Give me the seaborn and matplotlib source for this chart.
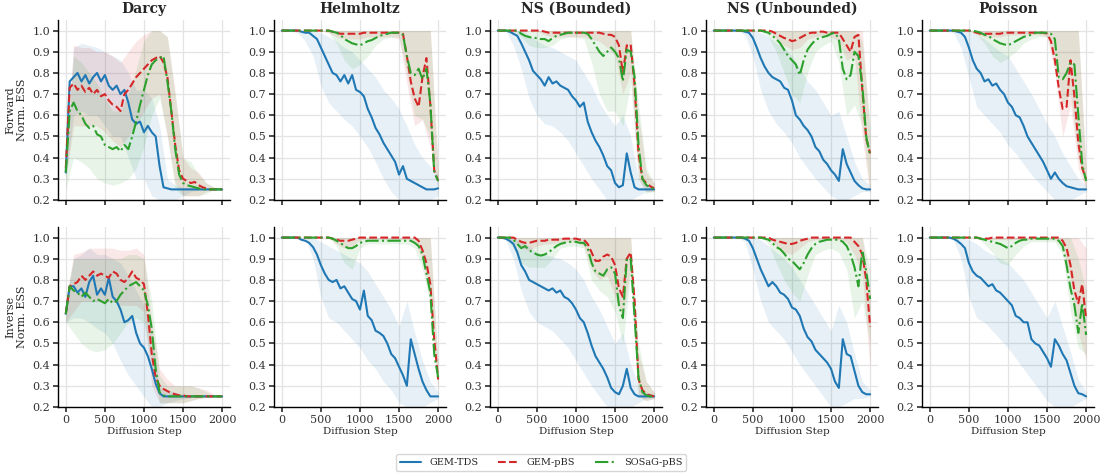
import matplotlib
matplotlib.use("Agg")
import matplotlib.pyplot as plt
import seaborn as sns

STEPS = list(range(0, 2001, 50))
BAND_STEPS = list(range(0, 2001, 100))

TASKS = ["Darcy", "Helmholtz", "NS (Bounded)", "NS (Unbounded)", "Poisson"]
ROW_LABELS = ["Forward\nNorm. ESS", "Inverse\nNorm. ESS"]
METHODS = ["GEM-TDS", "GEM-pBS", "SOSaG-pBS"]
COLORS = ["#1f77b4", "#d62728", "#2ca02c"]
STYLES = ["-", "--", "-."]

# ---------------- forward: Darcy ----------------
darcy_f_tds = [0.33, 0.76, 0.78, 0.80, 0.76, 0.79, 0.75, 0.78, 0.80, 0.76,
               0.79, 0.74, 0.72, 0.74, 0.70, 0.72, 0.66, 0.58, 0.56, 0.57,
               0.52, 0.55, 0.52, 0.50, 0.36, 0.26, 0.255, 0.25, 0.25, 0.25,
               0.25, 0.25, 0.25, 0.25, 0.25, 0.25, 0.25, 0.25, 0.25, 0.25,
               0.25]
darcy_f_pbs = [0.35, 0.73, 0.75, 0.72, 0.74, 0.71, 0.73, 0.70, 0.72, 0.69,
               0.70, 0.67, 0.65, 0.64, 0.62, 0.70, 0.72, 0.75, 0.78, 0.80,
               0.82, 0.84, 0.86, 0.87, 0.88, 0.85, 0.78, 0.62, 0.46, 0.34,
               0.30, 0.29, 0.28, 0.285, 0.27, 0.26, 0.255, 0.25, 0.25, 0.25,
               0.25]
darcy_f_sos = [0.33, 0.62, 0.66, 0.62, 0.60, 0.56, 0.54, 0.55, 0.51, 0.50,
               0.46, 0.45, 0.44, 0.45, 0.43, 0.46, 0.44, 0.50, 0.57, 0.65,
               0.72, 0.79, 0.84, 0.86, 0.87, 0.88, 0.76, 0.62, 0.44, 0.32,
               0.28, 0.27, 0.265, 0.26, 0.255, 0.25, 0.25, 0.25, 0.25, 0.25,
               0.25]
darcy_f_tds_lo = [0.3, 0.6, 0.62, 0.6, 0.6, 0.55, 0.5, 0.5, 0.4, 0.3,
                  0.3, 0.22, 0.2, 0.2, 0.2, 0.22, 0.24, 0.245, 0.25, 0.25, 0.25]
darcy_f_tds_hi = [0.4, 0.92, 0.94, 0.93, 0.92, 0.9, 0.88, 0.86, 0.8, 0.72,
                  0.72, 0.68, 0.55, 0.3, 0.27, 0.26, 0.26, 0.255, 0.25, 0.25, 0.25]
darcy_f_pbs_lo = [0.3, 0.55, 0.55, 0.55, 0.55, 0.52, 0.48, 0.45, 0.5, 0.55,
                  0.62, 0.68, 0.7, 0.5, 0.28, 0.22, 0.22, 0.22, 0.24, 0.25, 0.25]
darcy_f_pbs_hi = [0.4, 0.93, 0.92, 0.92, 0.9, 0.9, 0.88, 0.85, 0.9, 0.95,
                  0.98, 1.0, 1.0, 0.97, 0.7, 0.4, 0.35, 0.33, 0.28, 0.26, 0.25]
darcy_f_sos_lo = [0.25, 0.4, 0.38, 0.35, 0.3, 0.28, 0.27, 0.28, 0.3, 0.35,
                  0.45, 0.6, 0.68, 0.5, 0.25, 0.22, 0.22, 0.22, 0.23, 0.25, 0.25]
darcy_f_sos_hi = [0.4, 0.88, 0.85, 0.8, 0.75, 0.68, 0.62, 0.62, 0.7, 0.82,
                  0.95, 1.0, 1.0, 0.97, 0.7, 0.4, 0.38, 0.32, 0.28, 0.26, 0.25]

# ---------------- forward: Helmholtz ----------------
helm_f_tds = [1.0, 1.0, 1.0, 1.0, 1.0, 0.995, 0.99, 0.99, 0.975, 0.96,
              0.92, 0.88, 0.84, 0.80, 0.79, 0.76, 0.79, 0.75, 0.79, 0.72,
              0.71, 0.69, 0.63, 0.59, 0.54, 0.51, 0.47, 0.44, 0.41, 0.38,
              0.32, 0.36, 0.30, 0.29, 0.28, 0.27, 0.26, 0.25, 0.25, 0.25,
              0.255]
helm_f_pbs = [1.0] * 10 + \
             [1.0, 1.0, 1.0, 0.995, 0.99, 0.985, 0.985, 0.985, 0.985, 0.985,
              0.985, 0.99, 0.99, 0.99, 0.99, 0.99, 0.99, 0.99, 0.99, 0.99,
              0.99, 0.985, 0.88, 0.76, 0.68, 0.64, 0.78, 0.87, 0.65, 0.34,
              0.29]
helm_f_sos = [1.0] * 10 + \
             [1.0, 1.0, 1.0, 0.995, 0.99, 0.98, 0.96, 0.95, 0.94, 0.935,
              0.93, 0.94, 0.95, 0.955, 0.965, 0.975, 0.98, 0.985, 0.99, 0.99,
              0.99, 0.98, 0.88, 0.80, 0.79, 0.82, 0.77, 0.82, 0.66, 0.33,
              0.29]
helm_f_tds_lo = [1.0, 1.0, 0.99, 0.95, 0.88, 0.74, 0.66, 0.62, 0.58, 0.55,
                 0.5, 0.45, 0.38, 0.3, 0.24, 0.2, 0.2, 0.2, 0.2, 0.2, 0.22]
helm_f_tds_hi = [1.0, 1.0, 1.0, 1.0, 1.0, 0.99, 0.97, 0.95, 0.92, 0.9,
                 0.86, 0.82, 0.78, 0.72, 0.68, 0.63, 0.55, 0.46, 0.4, 0.36, 0.32]
helm_f_pbs_lo = [1.0, 1.0, 1.0, 1.0, 1.0, 1.0, 0.99, 0.97, 0.96, 0.96,
                 0.96, 0.97, 0.97, 0.97, 0.97, 0.96, 0.75, 0.55, 0.58, 0.45, 0.25]
helm_f_pbs_hi = [1.0] * 20 + [0.35]
helm_f_sos_lo = [1.0, 1.0, 1.0, 1.0, 1.0, 1.0, 0.99, 0.94, 0.86, 0.82,
                 0.84, 0.88, 0.93, 0.96, 0.97, 0.97, 0.8, 0.6, 0.58, 0.5, 0.25]
helm_f_sos_hi = [1.0] * 20 + [0.35]

# ---------------- forward: NS (Bounded) ----------------
nsb_f_tds = [1.0, 1.0, 1.0, 0.995, 0.985, 0.975, 0.94, 0.9, 0.86, 0.81,
             0.79, 0.77, 0.74, 0.78, 0.75, 0.76, 0.74, 0.73, 0.72, 0.69,
             0.67, 0.64, 0.66, 0.57, 0.52, 0.48, 0.45, 0.41, 0.36, 0.34,
             0.28, 0.26, 0.27, 0.42, 0.33, 0.26, 0.25, 0.25, 0.25, 0.25,
             0.25]
nsb_f_pbs = [1.0] * 10 + \
            [1.0, 1.0, 0.995, 0.99, 0.99, 0.99, 0.99, 0.99, 0.99, 0.99,
             0.99, 0.99, 0.99, 0.99, 0.99, 0.99, 0.99, 0.985, 0.98, 0.98,
             0.97, 0.93, 0.80, 0.93, 0.935, 0.74, 0.42, 0.30, 0.28, 0.265,
             0.255]
nsb_f_sos = [1.0, 1.0, 1.0, 1.0, 1.0, 1.0, 0.985, 0.975, 0.97, 0.965,
             0.965, 0.96, 0.96, 0.95, 0.965, 0.975, 0.98, 0.985, 0.99, 0.99,
             0.99, 0.99, 0.99, 0.985, 0.96, 0.93, 0.9, 0.88, 0.9, 0.92,
             0.9, 0.87, 0.76, 0.91, 0.9, 0.78, 0.46, 0.3, 0.27, 0.26,
             0.25]
nsb_f_tds_lo = [1.0, 1.0, 0.93, 0.82, 0.68, 0.6, 0.56, 0.55, 0.52, 0.48,
                0.42, 0.36, 0.3, 0.25, 0.2, 0.2, 0.2, 0.2, 0.22, 0.24, 0.245]
nsb_f_tds_hi = [1.0, 1.0, 1.0, 1.0, 0.98, 0.95, 0.93, 0.92, 0.9, 0.88,
                0.86, 0.8, 0.74, 0.66, 0.6, 0.55, 0.6, 0.5, 0.3, 0.27, 0.26]
nsb_f_pbs_lo = [1.0, 1.0, 1.0, 1.0, 1.0, 1.0, 0.98, 0.97, 0.97, 0.97,
                0.97, 0.97, 0.96, 0.95, 0.92, 0.88, 0.7, 0.8, 0.3, 0.24, 0.24]
nsb_f_pbs_hi = [1.0] * 18 + [0.6, 0.33, 0.28]
nsb_f_sos_lo = [1.0, 1.0, 1.0, 0.97, 0.93, 0.92, 0.92, 0.93, 0.96, 0.97,
                0.97, 0.96, 0.85, 0.7, 0.62, 0.62, 0.55, 0.75, 0.3, 0.23, 0.24]
nsb_f_sos_hi = [1.0] * 18 + [0.65, 0.35, 0.28]

# ---------------- forward: NS (Unbounded) ----------------
nsu_f_tds = [1.0, 1.0, 1.0, 1.0, 1.0, 1.0, 1.0, 1.0, 0.995, 0.99,
             0.965, 0.92, 0.87, 0.83, 0.8, 0.78, 0.77, 0.76, 0.73, 0.72,
             0.67, 0.6, 0.58, 0.55, 0.53, 0.5, 0.45, 0.43, 0.39, 0.37,
             0.34, 0.32, 0.29, 0.44, 0.37, 0.33, 0.29, 0.27, 0.255, 0.25,
             0.25]
nsu_f_pbs = [1.0] * 10 + \
            [1.0, 1.0, 1.0, 1.0, 1.0, 0.995, 0.985, 0.975, 0.965, 0.96,
             0.95, 0.955, 0.965, 0.975, 0.985, 0.99, 0.99, 0.995, 0.995, 0.99,
             0.99, 0.99, 0.99, 0.96, 0.93, 0.9, 0.97, 0.98, 0.72, 0.49,
             0.42]
nsu_f_sos = [1.0] * 10 + \
            [1.0, 1.0, 1.0, 0.995, 0.99, 0.975, 0.96, 0.94, 0.91, 0.88,
             0.86, 0.84, 0.79, 0.86, 0.91, 0.935, 0.955, 0.965, 0.97, 0.975,
             0.985, 0.99, 0.96, 0.82, 0.77, 0.79, 0.9, 0.88, 0.74, 0.5,
             0.41]
nsu_f_tds_lo = [1.0, 1.0, 1.0, 1.0, 0.98, 0.88, 0.72, 0.62, 0.56, 0.52,
                0.47, 0.4, 0.35, 0.3, 0.26, 0.22, 0.2, 0.2, 0.22, 0.24, 0.24]
nsu_f_tds_hi = [1.0, 1.0, 1.0, 1.0, 1.0, 1.0, 0.99, 0.97, 0.94, 0.92,
                0.88, 0.82, 0.76, 0.72, 0.66, 0.6, 0.62, 0.5, 0.38, 0.3, 0.27]
nsu_f_pbs_lo = [1.0] * 8 + [0.96, 0.93,
                0.91, 0.92, 0.96, 0.97, 0.98, 0.97, 0.95, 0.86, 0.88, 0.5, 0.22]
nsu_f_pbs_hi = [1.0] * 20 + [0.5]
nsu_f_sos_lo = [1.0] * 7 + [0.97, 0.9, 0.8,
                0.7, 0.66, 0.8, 0.9, 0.93, 0.95, 0.85, 0.6, 0.65, 0.55, 0.25]
nsu_f_sos_hi = [1.0] * 19 + [0.95, 0.55]

# ---------------- forward: Poisson ----------------
poi_f_tds = [1.0, 1.0, 1.0, 1.0, 1.0, 1.0, 1.0, 0.995, 0.99, 0.97,
             0.92, 0.86, 0.82, 0.8, 0.76, 0.77, 0.74, 0.75, 0.72, 0.7,
             0.66, 0.64, 0.6, 0.59, 0.55, 0.5, 0.47, 0.44, 0.41, 0.38,
             0.34, 0.3, 0.33, 0.3, 0.28, 0.265, 0.26, 0.255, 0.25, 0.25,
             0.25]
poi_f_pbs = [1.0] * 10 + \
            [1.0, 0.995, 0.99, 0.985, 0.985, 0.985, 0.985, 0.985, 0.985, 0.99,
             0.99, 0.99, 0.99, 0.99, 0.99, 0.99, 0.99, 0.99, 0.99, 0.99,
             0.985, 0.95, 0.86, 0.73, 0.63, 0.64, 0.86, 0.69, 0.47, 0.35,
             0.3]
poi_f_sos = [1.0] * 10 + \
            [1.0, 1.0, 0.995, 0.99, 0.98, 0.975, 0.96, 0.95, 0.94, 0.935,
             0.93, 0.94, 0.95, 0.96, 0.97, 0.975, 0.98, 0.99, 0.99, 0.99,
             0.99, 0.985, 0.96, 0.78, 0.77, 0.8, 0.85, 0.84, 0.6, 0.37,
             0.29]
poi_f_tds_lo = [1.0, 1.0, 1.0, 0.99, 0.92, 0.78, 0.64, 0.6, 0.56, 0.52,
                0.46, 0.42, 0.37, 0.32, 0.28, 0.24, 0.2, 0.2, 0.2, 0.22, 0.24]
poi_f_tds_hi = [1.0] * 6 + [0.98, 0.96, 0.93, 0.9,
                0.88, 0.82, 0.76, 0.7, 0.63, 0.56, 0.5, 0.42, 0.36, 0.3, 0.27]
poi_f_pbs_lo = [1.0] * 6 + [0.98, 0.97, 0.97, 0.97,
                0.98, 0.98, 0.98, 0.98, 0.98, 0.97, 0.8, 0.5, 0.65, 0.35, 0.25]
poi_f_pbs_hi = [1.0] * 20 + [0.35]
poi_f_sos_lo = [1.0] * 6 + [0.98, 0.94, 0.88, 0.85,
                0.87, 0.9, 0.94, 0.96, 0.97, 0.97, 0.88, 0.65, 0.7, 0.4, 0.25]
poi_f_sos_hi = [1.0] * 20 + [0.33]

# ---------------- inverse: Darcy ----------------
darcy_i_tds = [0.64, 0.77, 0.77, 0.74, 0.76, 0.72, 0.79, 0.82, 0.73, 0.76,
               0.73, 0.81, 0.72, 0.70, 0.66, 0.60, 0.61, 0.63, 0.55, 0.50,
               0.48, 0.44, 0.38, 0.31, 0.265, 0.25, 0.25, 0.25, 0.25, 0.25,
               0.25, 0.25, 0.25, 0.25, 0.25, 0.25, 0.25, 0.25, 0.25, 0.25,
               0.25]
darcy_i_pbs = [0.64, 0.77, 0.78, 0.79, 0.82, 0.80, 0.82, 0.84, 0.82, 0.83,
               0.82, 0.81, 0.84, 0.83, 0.80, 0.79, 0.81, 0.84, 0.81, 0.80,
               0.78, 0.64, 0.45, 0.34, 0.30, 0.285, 0.275, 0.265, 0.26, 0.255,
               0.255, 0.25, 0.25, 0.25, 0.25, 0.25, 0.25, 0.25, 0.25, 0.25,
               0.25]
darcy_i_sos = [0.64, 0.77, 0.75, 0.74, 0.72, 0.74, 0.72, 0.70, 0.71, 0.70,
               0.69, 0.71, 0.69, 0.70, 0.73, 0.75, 0.77, 0.78, 0.79, 0.77,
               0.75, 0.68, 0.57, 0.38, 0.27, 0.255, 0.25, 0.25, 0.25, 0.25,
               0.25, 0.25, 0.25, 0.25, 0.25, 0.25, 0.25, 0.25, 0.25, 0.25,
               0.25]
darcy_i_tds_lo = [0.6, 0.62, 0.62, 0.6, 0.57, 0.55, 0.5, 0.42, 0.35, 0.3,
                  0.25, 0.2, 0.2, 0.22, 0.23, 0.24, 0.245, 0.25, 0.25, 0.25, 0.25]
darcy_i_tds_hi = [0.7, 0.9, 0.92, 0.95, 0.92, 0.92, 0.9, 0.88, 0.82, 0.75,
                  0.68, 0.55, 0.3, 0.28, 0.27, 0.26, 0.255, 0.25, 0.25, 0.25, 0.25]
darcy_i_pbs_lo = [0.6, 0.65, 0.7, 0.7, 0.7, 0.7, 0.7, 0.68, 0.68, 0.68,
                  0.65, 0.3, 0.22, 0.22, 0.22, 0.22, 0.23, 0.24, 0.245, 0.245, 0.25]
darcy_i_pbs_hi = [0.7, 0.92, 0.93, 0.95, 0.95, 0.95, 0.95, 0.94, 0.94, 0.95,
                  0.92, 0.6, 0.38, 0.33, 0.3, 0.3, 0.3, 0.29, 0.28, 0.26, 0.25]
darcy_i_sos_lo = [0.6, 0.55, 0.5, 0.47, 0.46, 0.47, 0.5, 0.55, 0.6, 0.62,
                  0.6, 0.4, 0.22, 0.22, 0.22, 0.22, 0.23, 0.24, 0.245, 0.25, 0.25]
darcy_i_sos_hi = [0.7, 0.9, 0.9, 0.9, 0.9, 0.9, 0.9, 0.9, 0.92, 0.92,
                  0.9, 0.7, 0.35, 0.3, 0.3, 0.3, 0.3, 0.29, 0.27, 0.25, 0.25]

# ---------------- inverse: Helmholtz ----------------
helm_i_tds = [1.0, 1.0, 1.0, 1.0, 1.0, 0.99, 0.985, 0.975, 0.955, 0.92,
              0.87, 0.83, 0.80, 0.79, 0.80, 0.76, 0.77, 0.74, 0.71, 0.70,
              0.66, 0.75, 0.63, 0.61, 0.56, 0.55, 0.535, 0.5, 0.45, 0.43,
              0.39, 0.35, 0.3, 0.52, 0.45, 0.38, 0.32, 0.28, 0.25, 0.25,
              0.25]
helm_i_pbs = [1.0] * 10 + \
             [1.0, 1.0, 1.0, 0.995, 0.99, 0.985, 0.985, 0.985, 0.99, 0.995] + \
             [1.0] * 10 + \
             [1.0, 1.0, 1.0, 1.0, 1.0, 0.985, 0.94, 0.88, 0.78, 0.52,
              0.33]
helm_i_sos = [1.0] * 10 + \
             [1.0, 1.0, 1.0, 0.995, 0.985, 0.975, 0.96, 0.95, 0.95, 0.96,
              0.975, 0.98, 0.985, 0.985, 0.985, 0.985, 0.985, 0.985, 0.985, 0.985,
              0.985, 0.985, 0.985, 0.985, 0.975, 0.96, 0.92, 0.83, 0.74, 0.45,
              0.34]
helm_i_tds_lo = [1.0, 1.0, 1.0, 1.0, 0.9, 0.72, 0.62, 0.6, 0.56, 0.52,
                 0.48, 0.42, 0.38, 0.32, 0.28, 0.22, 0.2, 0.2, 0.2, 0.22, 0.24]
helm_i_tds_hi = [1.0] * 5 + [0.98, 0.96, 0.94, 0.92, 0.9,
                 0.88, 0.84, 0.78, 0.72, 0.66, 0.58, 0.7, 0.55, 0.42, 0.32, 0.27]
helm_i_pbs_lo = [1.0] * 7 + [0.97, 0.95, 0.96,
                 0.99, 0.99, 0.99, 0.99, 0.99, 0.99, 0.99, 0.98, 0.9, 0.72, 0.28]
helm_i_pbs_hi = [1.0] * 20 + [0.4]
helm_i_sos_lo = [1.0] * 7 + [0.96, 0.88, 0.85,
                 0.95, 0.97, 0.97, 0.97, 0.97, 0.97, 0.97, 0.95, 0.85, 0.68, 0.28]
helm_i_sos_hi = [1.0] * 20 + [0.4]

# ---------------- inverse: NS (Bounded) ----------------
nsb_i_tds = [1.0, 1.0, 0.995, 0.985, 0.97, 0.93, 0.87, 0.84, 0.80, 0.79,
             0.78, 0.77, 0.76, 0.75, 0.76, 0.74, 0.75, 0.72, 0.71, 0.69,
             0.66, 0.62, 0.6, 0.55, 0.49, 0.44, 0.41, 0.38, 0.34, 0.29,
             0.27, 0.26, 0.3, 0.38, 0.29, 0.26, 0.25, 0.25, 0.25, 0.25,
             0.25]
nsb_i_pbs = [1.0, 1.0, 1.0, 1.0, 1.0, 0.99, 0.98, 0.975, 0.975, 0.98,
             0.985, 0.985, 0.985, 0.99, 0.99, 0.99, 0.99, 0.995, 0.995, 0.995,
             0.995, 0.99, 0.99, 0.97, 0.93, 0.89, 0.89, 0.91, 0.92, 0.91,
             0.87, 0.76, 0.72, 0.9, 0.93, 0.7, 0.33, 0.28, 0.26, 0.255,
             0.25]
nsb_i_sos = [1.0, 1.0, 1.0, 1.0, 0.99, 0.97, 0.95, 0.96, 0.94, 0.93,
             0.92, 0.915, 0.92, 0.93, 0.945, 0.96, 0.97, 0.975, 0.98, 0.98,
             0.98, 0.975, 0.975, 0.95, 0.88, 0.84, 0.83, 0.82, 0.85, 0.86,
             0.83, 0.68, 0.62, 0.9, 0.9, 0.62, 0.34, 0.27, 0.255, 0.25,
             0.25]
nsb_i_tds_lo = [1.0, 0.99, 0.9, 0.75, 0.65, 0.6, 0.58, 0.56, 0.52, 0.48,
                0.42, 0.36, 0.3, 0.25, 0.2, 0.2, 0.2, 0.2, 0.22, 0.24, 0.245]
nsb_i_tds_hi = [1.0, 1.0, 1.0, 0.98, 0.96, 0.93, 0.92, 0.91, 0.9, 0.88,
                0.85, 0.8, 0.72, 0.66, 0.58, 0.5, 0.55, 0.4, 0.3, 0.27, 0.26]
nsb_i_pbs_lo = [1.0, 1.0, 0.98, 0.95, 0.94, 0.96, 0.97, 0.97, 0.98, 0.98,
                0.98, 0.96, 0.85, 0.8, 0.82, 0.72, 0.62, 0.85, 0.25, 0.23, 0.24]
nsb_i_pbs_hi = [1.0] * 18 + [0.45, 0.32, 0.27]
nsb_i_sos_lo = [1.0, 1.0, 0.95, 0.88, 0.86, 0.86, 0.86, 0.9, 0.95, 0.96,
                0.96, 0.95, 0.8, 0.75, 0.72, 0.65, 0.5, 0.82, 0.25, 0.23, 0.24]
nsb_i_sos_hi = [1.0] * 18 + [0.5, 0.32, 0.27]

# ---------------- inverse: NS (Unbounded) ----------------
nsu_i_tds = [1.0, 1.0, 1.0, 1.0, 1.0, 1.0, 1.0, 1.0, 0.995, 0.985,
             0.95, 0.9, 0.85, 0.81, 0.77, 0.79, 0.77, 0.74, 0.73, 0.71,
             0.67, 0.66, 0.63, 0.57, 0.53, 0.51, 0.47, 0.45, 0.43, 0.41,
             0.38, 0.32, 0.29, 0.52, 0.45, 0.44, 0.37, 0.3, 0.27, 0.26,
             0.26]
nsu_i_pbs = [1.0] * 10 + \
            [1.0, 1.0, 1.0, 1.0, 1.0, 0.99, 0.985, 0.98, 0.975, 0.97,
             0.97, 0.975, 0.985, 0.99, 0.995, 1.0, 1.0, 1.0, 1.0, 1.0,
             1.0, 1.0, 1.0, 1.0, 1.0, 1.0, 0.98, 0.96, 0.92, 0.8,
             0.58]
nsu_i_sos = [1.0] * 10 + \
            [1.0, 1.0, 1.0, 0.995, 0.99, 0.975, 0.955, 0.945, 0.925, 0.9,
             0.89, 0.87, 0.85, 0.88, 0.92, 0.95, 0.97, 0.98, 0.985, 0.99,
             0.99, 0.99, 0.99, 0.98, 0.96, 0.92, 0.86, 0.77, 0.94, 0.84,
             0.71]
nsu_i_tds_lo = [1.0, 1.0, 1.0, 1.0, 0.98, 0.85, 0.7, 0.6, 0.56, 0.52,
                0.46, 0.4, 0.35, 0.3, 0.25, 0.2, 0.2, 0.22, 0.24, 0.24, 0.25]
nsu_i_tds_hi = [1.0] * 6 + [0.99, 0.96, 0.93, 0.9,
                0.86, 0.8, 0.74, 0.68, 0.62, 0.56, 0.68, 0.6, 0.45, 0.32, 0.28]
nsu_i_pbs_lo = [1.0] * 8 + [0.96, 0.93,
                0.92, 0.95, 0.98, 0.99, 0.99, 0.99, 0.99, 0.98, 0.92, 0.82, 0.38]
nsu_i_pbs_hi = [1.0] * 20 + [0.75]
nsu_i_sos_lo = [1.0] * 7 + [0.97, 0.88, 0.8,
                0.74, 0.7, 0.82, 0.92, 0.94, 0.95, 0.93, 0.85, 0.62, 0.7, 0.5]
nsu_i_sos_hi = [1.0] * 20 + [0.85]

# ---------------- inverse: Poisson ----------------
poi_i_tds = [1.0, 1.0, 1.0, 1.0, 1.0, 1.0, 0.995, 0.985, 0.97, 0.95,
             0.88, 0.84, 0.82, 0.81, 0.79, 0.77, 0.78, 0.75, 0.74, 0.72,
             0.7, 0.68, 0.63, 0.62, 0.6, 0.6, 0.52, 0.5, 0.49, 0.46,
             0.43, 0.39, 0.52, 0.49, 0.45, 0.42, 0.36, 0.3, 0.265, 0.26,
             0.25]
poi_i_pbs = [1.0] * 10 + \
            [1.0, 1.0, 1.0, 0.995, 0.995, 0.995, 1.0, 1.0, 1.0, 1.0] + \
            [1.0] * 10 + \
            [1.0, 1.0, 1.0, 1.0, 0.985, 0.95, 0.87, 0.75, 0.69, 0.78,
             0.615]
poi_i_sos = [1.0] * 10 + \
            [1.0, 1.0, 1.0, 0.995, 0.99, 0.985, 0.98, 0.975, 0.97, 0.96,
             0.95, 0.96, 0.975, 0.985, 0.99, 0.99, 0.995, 0.995, 0.995, 0.995,
             0.995, 0.995, 0.995, 0.985, 0.96, 0.87, 0.76, 0.68, 0.55, 0.69,
             0.54]
poi_i_tds_lo = [1.0, 1.0, 1.0, 0.99, 0.9, 0.72, 0.62, 0.6, 0.56, 0.52,
                0.48, 0.43, 0.38, 0.33, 0.28, 0.23, 0.2, 0.2, 0.2, 0.22, 0.24]
poi_i_tds_hi = [1.0] * 5 + [0.99, 0.97, 0.94, 0.92, 0.9,
                0.88, 0.84, 0.8, 0.74, 0.68, 0.62, 0.7, 0.58, 0.46, 0.33, 0.27]
poi_i_pbs_lo = [1.0] * 7 + [0.99, 0.99, 0.99,
                0.99, 0.99, 0.99, 0.99, 0.99, 0.99, 0.99, 0.96, 0.8, 0.55, 0.42]
poi_i_pbs_hi = [1.0] * 20 + [0.95]
poi_i_sos_lo = [1.0] * 7 + [0.97, 0.93, 0.88,
                0.87, 0.92, 0.96, 0.98, 0.98, 0.98, 0.98, 0.92, 0.65, 0.48, 0.45]
poi_i_sos_hi = [1.0] * 19 + [0.9, 0.75]

forward = [
    [(darcy_f_tds, darcy_f_tds_lo, darcy_f_tds_hi), (darcy_f_pbs, darcy_f_pbs_lo, darcy_f_pbs_hi), (darcy_f_sos, darcy_f_sos_lo, darcy_f_sos_hi)],
    [(helm_f_tds, helm_f_tds_lo, helm_f_tds_hi), (helm_f_pbs, helm_f_pbs_lo, helm_f_pbs_hi), (helm_f_sos, helm_f_sos_lo, helm_f_sos_hi)],
    [(nsb_f_tds, nsb_f_tds_lo, nsb_f_tds_hi), (nsb_f_pbs, nsb_f_pbs_lo, nsb_f_pbs_hi), (nsb_f_sos, nsb_f_sos_lo, nsb_f_sos_hi)],
    [(nsu_f_tds, nsu_f_tds_lo, nsu_f_tds_hi), (nsu_f_pbs, nsu_f_pbs_lo, nsu_f_pbs_hi), (nsu_f_sos, nsu_f_sos_lo, nsu_f_sos_hi)],
    [(poi_f_tds, poi_f_tds_lo, poi_f_tds_hi), (poi_f_pbs, poi_f_pbs_lo, poi_f_pbs_hi), (poi_f_sos, poi_f_sos_lo, poi_f_sos_hi)],
]
inverse = [
    [(darcy_i_tds, darcy_i_tds_lo, darcy_i_tds_hi), (darcy_i_pbs, darcy_i_pbs_lo, darcy_i_pbs_hi), (darcy_i_sos, darcy_i_sos_lo, darcy_i_sos_hi)],
    [(helm_i_tds, helm_i_tds_lo, helm_i_tds_hi), (helm_i_pbs, helm_i_pbs_lo, helm_i_pbs_hi), (helm_i_sos, helm_i_sos_lo, helm_i_sos_hi)],
    [(nsb_i_tds, nsb_i_tds_lo, nsb_i_tds_hi), (nsb_i_pbs, nsb_i_pbs_lo, nsb_i_pbs_hi), (nsb_i_sos, nsb_i_sos_lo, nsb_i_sos_hi)],
    [(nsu_i_tds, nsu_i_tds_lo, nsu_i_tds_hi), (nsu_i_pbs, nsu_i_pbs_lo, nsu_i_pbs_hi), (nsu_i_sos, nsu_i_sos_lo, nsu_i_sos_hi)],
    [(poi_i_tds, poi_i_tds_lo, poi_i_tds_hi), (poi_i_pbs, poi_i_pbs_lo, poi_i_pbs_hi), (poi_i_sos, poi_i_sos_lo, poi_i_sos_hi)],
]

sns.set_theme(style="whitegrid")
plt.rcParams.update({
    "font.family": ["DejaVu Serif"],
    "axes.edgecolor": "black",
    "axes.linewidth": 1.0,
    "grid.color": "#e3e3e3",
    "grid.linewidth": 0.9,
    "xtick.bottom": True,
    "ytick.left": True,
    "xtick.major.size": 3.5,
    "ytick.major.size": 3.5,
    "xtick.color": "#333333",
    "ytick.color": "#333333",
})

fig, axes = plt.subplots(2, 5, figsize=(11, 4.76), dpi=100, sharex=True)
plt.subplots_adjust(left=0.0527, right=0.9945, top=0.958, bottom=0.145,
                    wspace=0.256, hspace=0.15)

for r, rows in enumerate([forward, inverse]):
    for c, panel in enumerate(rows):
        ax = axes[r, c]
        # shaded spread first, mean curves on top
        for m, (mean, lo, hi) in enumerate(panel):
            ax.fill_between(BAND_STEPS, lo, hi, color=COLORS[m], alpha=0.11, linewidth=0)
        for m, (mean, lo, hi) in enumerate(panel):
            sns.lineplot(x=STEPS, y=mean, ax=ax, color=COLORS[m], linestyle=STYLES[m],
                         linewidth=1.5, label=METHODS[m], legend=False)
        ax.set_xlim(-100, 2100)
        ax.set_ylim(0.2, 1.05)
        ax.set_xticks([0, 500, 1000, 1500, 2000])
        ax.set_yticks([0.2, 0.3, 0.4, 0.5, 0.6, 0.7, 0.8, 0.9, 1.0])
        ax.tick_params(labelsize=8, pad=2)
        sns.despine(ax=ax)
        if r == 0:
            ax.set_title(TASKS[c], fontsize=10, fontweight="bold", pad=5)
        else:
            ax.set_xlabel("Diffusion Step", fontsize=7.5, labelpad=2)
        if c == 0:
            ax.set_ylabel(ROW_LABELS[r], fontsize=8)

handles, labels = axes[0, 0].get_legend_handles_labels()
fig.legend(handles, labels, loc="lower center", bbox_to_anchor=(0.492, 0.0), ncol=3,
           fontsize=7, handlelength=2.2, columnspacing=2.0, frameon=True,
           edgecolor="#cccccc")

plt.savefig("out.png", dpi=100)
